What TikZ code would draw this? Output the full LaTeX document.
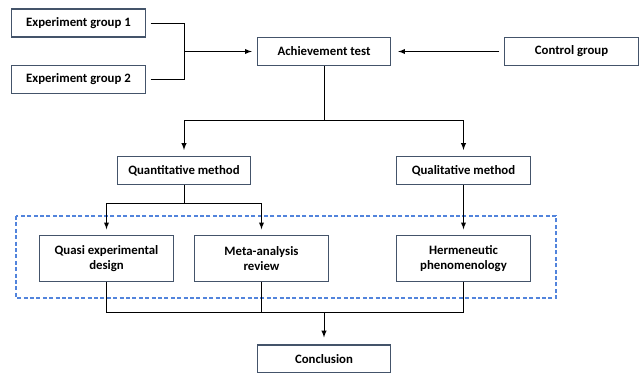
\documentclass[tikz,border=0pt]{standalone}
\usepackage{fontspec}
\setmainfont{Carlito}
\usetikzlibrary{arrows,calc}
\definecolor{BoxClr}{RGB}{68,84,106}
\definecolor{DashClr}{RGB}{82,132,220}

\begin{document}
\begin{tikzpicture}[x=0.75pt,y=-0.75pt]
\tikzset{box/.style={draw=BoxClr,line width=0.8pt,fill=white,minimum width=100pt,minimum height=21pt,
  align=center,inner sep=1pt,font=\bfseries\fontsize{9.6}{11.5}\selectfont},
  tallbox/.style={box,minimum height=34pt},
  link/.style={line width=0.75pt,black}}
\useasboundingbox (0,0) rectangle (640,372);

% groups and test
\node[box] (eg1) at (78.5,23) {Experiment group 1};
\node[box] (eg2) at (78.5,79.5) {Experiment group 2};
\node[box] (ach) at (324,51.5) {Achievement test};
\node[box] (ctrl) at (571.5,51.5) {Control group};

% methods
\node[box] (quan) at (184,170.5) {Quantitative method};
\node[box] (qual) at (463.5,170.5) {Qualitative method};

%\draw[DashClr,dashed] (16,216) rectangle (556,298);
\draw[DashClr,line width=1pt,dash pattern=on 3pt off 1.8pt] (16,216) rectangle (556,298);

\node[tallbox] (quasi) at (106.5,258.5) {Quasi experimental\\design};
\node[tallbox] (meta) at (261.5,258.5) {Meta-analysis\\review};
\node[tallbox] (herm) at (463.5,258.5) {Hermeneutic\\phenomenology};

\node[box] (concl) at (324,359) {Conclusion};

\coordinate (m1) at (184,51.5);
\coordinate (m2) at (324,120);
\coordinate (m3) at (184,203);
\coordinate (m4) at (324,312);

\draw[link] ($(eg1.east)+(5,0)$) -| (m1);
\draw[link] ($(eg2.east)+(5,0)$) -| (m1);
\draw[link,-latex] (m1) -- ($(ach.west)+(-5,0)$);
\draw[link,-latex] ($(ctrl.west)+(-5,0)$) -- ($(ach.east)+(7,0)$);

\draw[link] (ach.south) -- (m2);
\draw[link,-latex] (m2) -| ($(quan.north)+(0,-6)$);
\draw[link,-latex] (m2) -| ($(qual.north)+(0,-6)$);

\draw[link] (quan.south) -- (m3);
\draw[link,-latex] (m3) -| ($(quasi.north)+(0,-6)$);
\draw[link,-latex] (m3) -| ($(meta.north)+(0,-6)$);
\draw[link,-latex] (qual.south) -- ($(herm.north)+(0,-6)$);

\draw[link] (quasi.south) |- (m4);
\draw[link] (meta.south) |- (m4);
\draw[link] (herm.south) |- (m4);
\draw[link,-latex] (m4) -- ($(concl.north)+(0,-7)$);

\end{tikzpicture}
\end{document}
